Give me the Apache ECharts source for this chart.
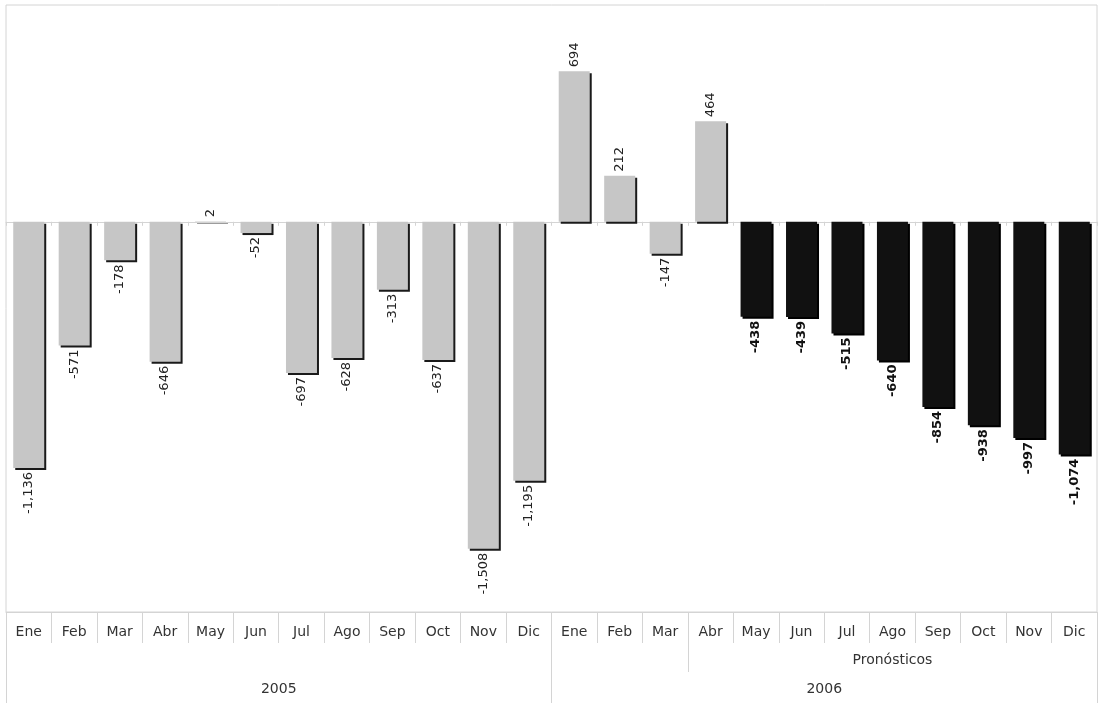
<!DOCTYPE html>
<html>
<head>
<meta charset="utf-8">
<script src="https://cdn.jsdelivr.net/npm/echarts@6/dist/echarts.min.js"></script>
<style>
html,body{margin:0;padding:0;background:#fff;}
#chart{width:1098px;height:703px;}
</style>
</head>
<body>
<div id="chart"></div>
<script>
const months = ['Ene','Feb','Mar','Abr','May','Jun','Jul','Ago','Sep','Oct','Nov','Dic'];
const years = ['2005','2006'];
const actual2005 = [-1136,-571,-178,-646,2,-52,-697,-628,-313,-637,-1508,-1195];
const actual2006 = [694,212,-147,464];
const forecast2006 = [-438,-439,-515,-640,-854,-938,-997,-1074];
const groupLabel = 'Pronósticos';
const groupStart = 15;

const categories = months.concat(months);
const nActual = actual2005.length + actual2006.length;
const actualAll = actual2005.concat(actual2006);

const FONT = 'DejaVu Sans';
const GRID_LINE = '#d4d4d4';

function item(v, bold) {
  const pos = v >= 0;
  return {
    value: v,
    label: {
      position: pos ? 'top' : 'bottom',
      align: pos ? 'left' : 'right',
      verticalAlign: 'middle',
      fontWeight: bold ? 'bold' : 'normal'
    }
  };
}

const realData = categories.map((c, i) => i < nActual ? item(actualAll[i], false) : '-');
const fcData = categories.map((c, i) => i >= nActual ? item(forecast2006[i - nActual], true) : '-');

const groupEnd = categories.length - 1;
const groupMid = Math.round((groupStart + groupEnd) / 2);

const chart = echarts.init(document.getElementById('chart'), null, {renderer: 'canvas'});
chart.setOption({
  animation: false,
  textStyle: {fontFamily: FONT},
  grid: {left: 6, right: 1, top: 5, bottom: 91, show: true, borderColor: GRID_LINE, borderWidth: 1, containLabel: false},
  xAxis: [
    {
      type: 'category', data: categories, position: 'bottom',
      axisLine: {show: true, onZero: false, lineStyle: {color: GRID_LINE}},
      axisTick: {show: true, length: 31, interval: 0, alignWithLabel: false, lineStyle: {color: GRID_LINE}},
      axisLabel: {interval: 0, margin: 13, fontSize: 14, color: '#333', fontFamily: FONT}
    },
    {
      type: 'category', data: categories, position: 'bottom',
      axisLine: {show: true, onZero: true, lineStyle: {color: GRID_LINE}},
      axisTick: {show: true, length: 4, interval: 0, alignWithLabel: false, lineStyle: {color: GRID_LINE}},
      axisLabel: {show: false}
    },
    {
      type: 'category', data: categories, position: 'bottom', offset: 31,
      axisLine: {show: false, onZero: false},
      axisTick: {show: true, length: 29, interval: (i) => i === 0 || i === groupStart, alignWithLabel: false, lineStyle: {color: GRID_LINE}},
      axisLabel: {
        interval: (i) => i === groupMid, margin: 10, fontSize: 14, color: '#333', fontFamily: FONT,
        formatter: () => groupLabel
      }
    },
    {
      type: 'category', data: years, position: 'bottom',
      axisLine: {show: false, onZero: false},
      axisTick: {show: true, length: 91, interval: 0, alignWithLabel: false, lineStyle: {color: GRID_LINE}},
      axisLabel: {interval: 0, margin: 70, fontSize: 14, color: '#333', fontFamily: FONT}
    }
  ],
  yAxis: {
    type: 'value', min: -1800, max: 1000, show: false,
    splitLine: {show: false}
  },
  series: [
    {
      name: 'Real', type: 'bar', data: realData, barWidth: 31, barGap: '-100%',
      itemStyle: {color: '#c6c6c6', shadowColor: '#1a1a1a', shadowBlur: 0, shadowOffsetX: 2, shadowOffsetY: 2},
      label: {
        show: true, rotate: 90, distance: 4, fontSize: 13, color: '#222', fontFamily: FONT,
        formatter: (p) => p.value.toLocaleString('en-US')
      }
    },
    {
      name: 'Pronósticos', type: 'bar', data: fcData, barWidth: 31, barGap: '-100%',
      itemStyle: {color: '#111111', shadowColor: '#000', shadowBlur: 0, shadowOffsetX: 2, shadowOffsetY: 2},
      label: {
        show: true, rotate: 90, distance: 4, fontSize: 13, color: '#111', fontFamily: FONT,
        formatter: (p) => p.value.toLocaleString('en-US')
      }
    }
  ]
});
</script>
</body>
</html>
